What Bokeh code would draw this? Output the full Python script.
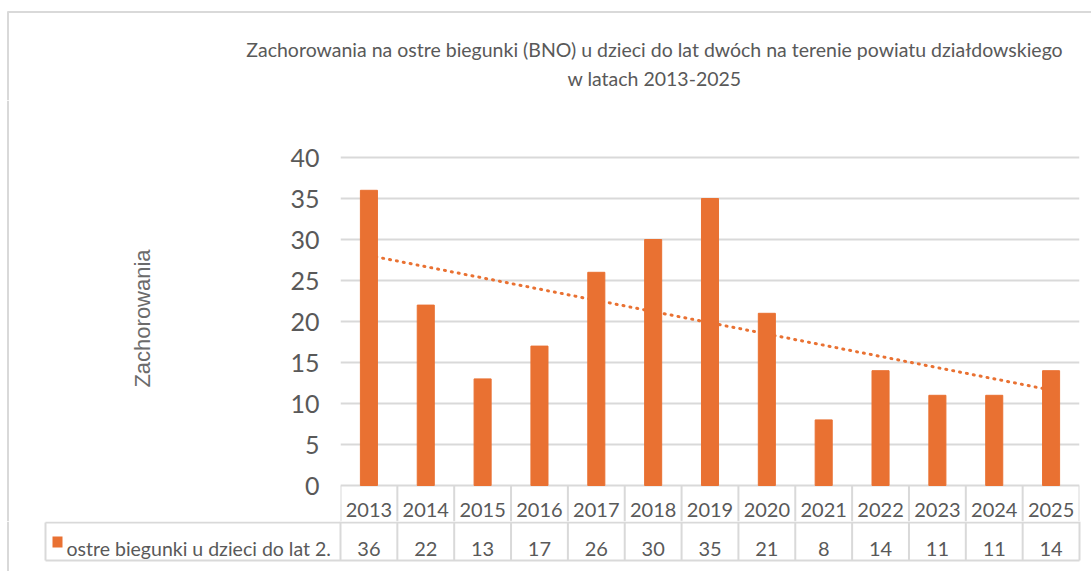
import numpy as np
from bokeh.plotting import figure
from bokeh.layouts import column, row
from bokeh.models import Range1d, SingleIntervalTicker
from bokeh.core.properties import value
from bokeh.embed import file_html
from bokeh.resources import INLINE

# ---------------- data ----------------
years = ["2013", "2014", "2015", "2016", "2017", "2018", "2019",
         "2020", "2021", "2022", "2023", "2024", "2025"]
cases = [36, 22, 13, 17, 26, 30, 35, 21, 8, 14, 11, 11, 14]
series_name = "ostre biegunki u dzieci do lat 2."
title_lines = ["Zachorowania na ostre biegunki (BNO) u dzieci do lat dwóch na terenie powiatu działdowskiego",
               "w latach 2013-2025"]
y_label = "Zachorowania"
y_max = 40
y_step = 5

# ---------------- style ----------------
ORANGE = "#E97132"
TEXT = "#595959"
GRID = "#D9D9D9"
FONT = "Lato"

W = 1091
TOP_H = 100          # title strip: page y 0..100
SPLIT = 521          # chart strip: page y 100..521, table strip below
MID_H = SPLIT - TOP_H
BOT_H = 571 - SPLIT
LEFT_W = 280

# plot-area geometry (page pixels)
FRAME_L, FRAME_R = 340, 1079
FRAME_T = 155
PX_PER_UNIT = 8.2
ZERO_Y = 485
n = len(years)
colw = (FRAME_R - FRAME_L) / n
HDR_BOT, ROW_BOT = 522, 560
TABLE_FS = "20px"


def blank(width, height, xr, yr):
    f = figure(width=width, height=height, output_backend="svg", toolbar_location=None,
               x_range=xr, y_range=yr, x_axis_location=None, y_axis_location=None,
               title=None, min_border=0, min_border_left=0, min_border_right=0,
               min_border_top=0, min_border_bottom=0)
    f.frame_align = False
    f.outline_line_color = None
    f.grid.visible = False
    f.background_fill_color = "white"
    f.border_fill_color = "white"
    return f


# ---------------- title strip ----------------
pt = blank(W, TOP_H, Range1d(0, W), Range1d(TOP_H, 0))
pt.text(x=[654, 654], y=[49, 78], text=title_lines, text_align="center",
        text_baseline="alphabetic", text_font=value(FONT), text_font_size="19.5px",
        text_color=TEXT)
pt.segment(x0=[7, 7.5], y0=[11.5, 11], x1=[W, 7.5], y1=[11.5, TOP_H],
           line_color=GRID, line_width=2)

# ---------------- left strip (y axis title) ----------------
pl = blank(LEFT_W, MID_H, Range1d(0, LEFT_W), Range1d(SPLIT, TOP_H))
pl.text(x=[142], y=[318], text=[y_label], angle=np.pi / 2, text_align="center",
        text_baseline="middle", text_font=value("Liberation Sans"), text_font_size="22px",
        text_color="#6b6b6b")
pl.segment(x0=[7.5], y0=[TOP_H], x1=[7.5], y1=[SPLIT], line_color=GRID, line_width=2)

# ---------------- main chart (includes header row of the table) ----------------
def px2y(py):
    return (ZERO_Y - py) / PX_PER_UNIT


p = figure(width=W - LEFT_W, height=MID_H, output_backend="svg", toolbar_location=None,
           title=None,
           x_range=Range1d(-0.5, n - 0.5), y_range=Range1d(px2y(SPLIT), px2y(FRAME_T)),
           x_axis_location=None,
           min_border_left=FRAME_L - LEFT_W, min_border_right=W - FRAME_R,
           min_border_top=FRAME_T - TOP_H, min_border_bottom=0)
p.frame_align = False
p.outline_line_color = None
p.background_fill_color = "white"
p.border_fill_color = "white"

yax = p.yaxis[0]
yax.ticker = SingleIntervalTicker(interval=y_step)
yax.axis_line_color = None
yax.major_tick_line_color = None
yax.minor_tick_line_color = None
yax.major_tick_out = 0
yax.major_tick_in = 0
yax.major_label_standoff = 17
yax.major_label_text_font = FONT
yax.major_label_text_font_size = "25px"
yax.major_label_text_color = TEXT
p.xgrid.visible = False
p.ygrid.grid_line_color = GRID
p.ygrid.grid_line_width = 2

idx = np.arange(n)
slope, intercept = np.polyfit(idx, cases, 1)
p.line(x=[idx[0], idx[-1]], y=[intercept + slope * idx[0], intercept + slope * idx[-1]],
       line_color=ORANGE, line_width=3, line_dash="1 6", line_cap="round")
p.vbar(x=idx, top=cases, width=0.3, bottom=0, fill_color=ORANGE, line_color=ORANGE)

# header row (years)
bounds = [i - 0.5 for i in range(n + 1)]
p.segment(x0=bounds, y0=[0] * len(bounds), x1=bounds, y1=[px2y(SPLIT + 2)] * len(bounds),
          line_color=GRID, line_width=2)
p.text(x=idx, y=[px2y(509)] * n, text=years, text_align="center", text_baseline="alphabetic",
       text_font=value(FONT), text_font_size=TABLE_FS, text_color=TEXT)

# ---------------- data row of the table ----------------
def px2x(px):
    return (px - FRAME_L) / colw - 0.5


pb = blank(W, BOT_H, Range1d(px2x(0), px2x(W)), Range1d(571, SPLIT))
pb.segment(x0=bounds, y0=[SPLIT] * len(bounds), x1=bounds, y1=[ROW_BOT] * len(bounds),
           line_color=GRID, line_width=2)
pb.segment(x0=[px2x(45), px2x(45), px2x(45)], y0=[HDR_BOT, ROW_BOT, HDR_BOT],
           x1=[n - 0.5, n - 0.5, px2x(45)], y1=[HDR_BOT, ROW_BOT, ROW_BOT],
           line_color=GRID, line_width=2)
pb.segment(x0=[px2x(7.5)], y0=[SPLIT], x1=[px2x(7.5)], y1=[571],
           line_color=GRID, line_width=2)
pb.text(x=idx, y=[548] * n, text=[str(v) for v in cases], text_align="center",
        text_baseline="alphabetic", text_font=value(FONT), text_font_size=TABLE_FS,
        text_color=TEXT)
pb.quad(left=[px2x(52)], right=[px2x(62)], top=[536], bottom=[547],
        fill_color=ORANGE, line_color=None)
pb.text(x=[px2x(66)], y=[548], text=[series_name], text_align="left",
        text_baseline="alphabetic", text_font=value(FONT), text_font_size="19.5px",
        text_color=TEXT)

layout = column(pt, row(pl, p, spacing=0), pb, spacing=0)
open("out.html", "w").write(file_html(layout, INLINE))
